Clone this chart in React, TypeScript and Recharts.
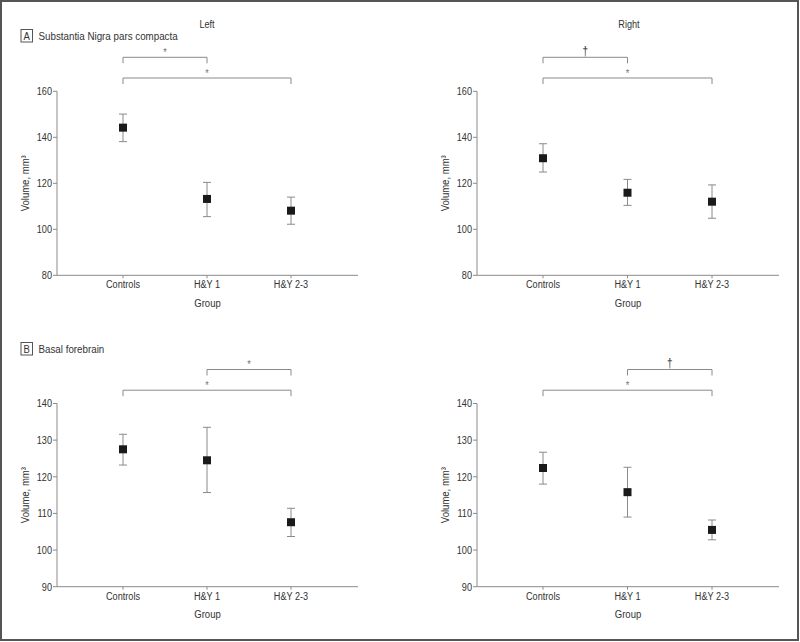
import React from 'react';
import { ComposedChart, Scatter, ErrorBar, XAxis, YAxis, ReferenceLine } from 'recharts';

const groups = ['Controls', 'H&Y 1', 'H&Y 2-3'];

// Substantia nigra pars compacta
const snLeftMean = [144.2, 113.2, 108.1];
const snLeftLow = [138.1, 105.5, 102.2];
const snLeftHigh = [150.1, 120.4, 114.0];
const snRightMean = [130.9, 115.9, 112.0];
const snRightLow = [124.9, 110.4, 104.8];
const snRightHigh = [137.2, 121.7, 119.3];
const snTicks = [80, 100, 120, 140, 160];

// Basal forebrain
const bfLeftMean = [127.5, 124.5, 107.6];
const bfLeftLow = [123.2, 115.7, 103.7];
const bfLeftHigh = [131.6, 133.5, 111.4];
const bfRightMean = [122.4, 115.8, 105.5];
const bfRightLow = [118.0, 109.0, 102.8];
const bfRightHigh = [126.7, 122.6, 108.2];
const bfTicks = [90, 100, 110, 120, 130, 140];

// significance brackets: level 0 = upper, 1 = lower
const snLeftBrackets = [
  { from: 'Controls', to: 'H&Y 1', mark: '*', level: 0 },
  { from: 'Controls', to: 'H&Y 2-3', mark: '*', level: 1 },
];
const snRightBrackets = [
  { from: 'Controls', to: 'H&Y 1', mark: '†', level: 0 },
  { from: 'Controls', to: 'H&Y 2-3', mark: '*', level: 1 },
];
const bfLeftBrackets = [
  { from: 'H&Y 1', to: 'H&Y 2-3', mark: '*', level: 0 },
  { from: 'Controls', to: 'H&Y 2-3', mark: '*', level: 1 },
];
const bfRightBrackets = [
  { from: 'H&Y 1', to: 'H&Y 2-3', mark: '†', level: 0 },
  { from: 'Controls', to: 'H&Y 2-3', mark: '*', level: 1 },
];

const FONT = "'Liberation Sans', Arial, Helvetica, sans-serif";
const AXIS = '#8a8a8a';
const TEXT = '#333';
const SQUEEZE = 0.83; // condensed look of the original typeface

// horizontally condensed text
const CText = (props: any) => {
  const { x, y, size = 11, anchor = 'middle', fill = TEXT, rotate = 0, dy, baseline, children } = props;
  const rot = rotate ? ` rotate(${rotate})` : '';
  return (
    <text transform={`translate(${x},${y})${rot} scale(${SQUEEZE},1)`} textAnchor={anchor}
      dominantBaseline={baseline} dy={dy} fontSize={size} fill={fill}>
      {children}
    </text>
  );
};

const XTick = (props: any) => (
  <CText x={props.x} y={props.y} dy="0.71em">{props.payload.value}</CText>
);

const YTick = (props: any) => (
  <CText x={props.x} y={props.y} anchor="end" dy="0.355em">{props.payload.value}</CText>
);

const Square = (props: any) => {
  const { cx, cy } = props;
  return <rect x={cx - 4} y={cy - 4} width={8} height={8} fill="#1a1a1a" />;
};

const YLabel = (props: any) => {
  const { viewBox } = props;
  return (
    <CText x={viewBox.x + 25} y={viewBox.y + viewBox.height / 2} rotate={-90} baseline="central" size={11.5}>
      Volume, mm³
    </CText>
  );
};

const XLabel = (props: any) => {
  const { viewBox } = props;
  return (
    <CText x={viewBox.x + viewBox.width / 2} y={viewBox.y + 27} baseline="central" size={11.5}>
      Group
    </CText>
  );
};

const MarkLabel = (props: any) => {
  const { viewBox, value } = props;
  const star = value === '*';
  return (
    <CText x={viewBox.x + viewBox.width / 2} y={viewBox.y - (star ? 5 : 7)} baseline="central"
      size={star ? 11 : 12} fill={star ? '#777' : '#333'}>
      {value}
    </CText>
  );
};

type PanelProps = {
  left: number;
  top: number;
  width: number;
  marginRight: number;
  plotTop: number;
  marginBottom: number;
  mean: number[];
  low: number[];
  high: number[];
  domain: [number, number];
  ticks: number[];
  brackets: { from: string; to: string; mark: string; level: number }[];
};

const levelPx = [34, 13.3];
const tickPx = 6;

function Panel(p: PanelProps) {
  const height = 320;
  const plotH = height - p.plotTop - p.marginBottom - 34;
  const upp = (p.domain[1] - p.domain[0]) / plotH;
  const data = groups.map((g, i) => ({
    group: g,
    mean: p.mean[i],
    err: [p.mean[i] - p.low[i], p.high[i] - p.mean[i]],
  }));
  return (
    <div style={{ position: 'absolute', left: p.left, top: p.top }}>
      <ComposedChart width={p.width} height={height} data={data}
        margin={{ top: p.plotTop, right: p.marginRight, bottom: p.marginBottom, left: 0 }}>
        <XAxis dataKey="group" type="category" padding={{ left: 66, right: 67 }} height={34}
          stroke={AXIS} tickSize={3} tickMargin={2} tick={<XTick />} interval={0}
          label={<XLabel />} />
        <YAxis type="number" domain={p.domain} ticks={p.ticks} width={57} interval={0}
          stroke={AXIS} tickSize={4} tickMargin={1} tick={<YTick />}
          label={<YLabel />} />
        {p.brackets.map((b, i) => {
          const yv = p.domain[1] + levelPx[b.level] * upp;
          const yt = yv - tickPx * upp;
          return (
            <React.Fragment key={i}>
              <ReferenceLine ifOverflow="visible" stroke={AXIS}
                segment={[{ x: b.from, y: yv }, { x: b.to, y: yv }]}
                label={<MarkLabel value={b.mark} />} />
              <ReferenceLine ifOverflow="visible" stroke={AXIS}
                segment={[{ x: b.from, y: yv }, { x: b.from, y: yt }]} />
              <ReferenceLine ifOverflow="visible" stroke={AXIS}
                segment={[{ x: b.to, y: yv }, { x: b.to, y: yt }]} />
            </React.Fragment>
          );
        })}
        <Scatter dataKey="mean" shape={Square} isAnimationActive={false}>
          <ErrorBar dataKey="err" direction="y" width={4} stroke="#8a8a8a" strokeWidth={1} />
        </Scatter>
      </ComposedChart>
    </div>
  );
}

export default function App() {
  return (
    <div style={{ position: 'absolute', left: 0, top: 0, width: 800, height: 642, background: '#fff', fontFamily: FONT }}>
      <svg width={800} height={642} style={{ position: 'absolute', left: 0, top: 0 }}>
        <rect x={1} y={1} width={797} height={639} fill="none" stroke="#555" strokeWidth={2} />
        <CText x={207} y={24} baseline="central" size={11}>Left</CText>
        <CText x={629} y={24} baseline="central" size={11}>Right</CText>
        <rect x={21} y={29.5} width={11.5} height={12.5} fill="none" stroke="#555" strokeWidth={1} />
        <CText x={26.75} y={36} baseline="central" size={11.5}>A</CText>
        <CText x={38.5} y={36} anchor="start" baseline="central" size={11.8}>Substantia Nigra pars compacta</CText>
        <rect x={21} y={342.5} width={11.5} height={12.5} fill="none" stroke="#555" strokeWidth={1} />
        <CText x={26.75} y={349} baseline="central" size={11.5}>B</CText>
        <CText x={38.5} y={349} anchor="start" baseline="central" size={11.8}>Basal forebrain</CText>
      </svg>
      <Panel left={0} top={0} width={380} marginRight={22} plotTop={91.3} marginBottom={10.7}
        mean={snLeftMean} low={snLeftLow} high={snLeftHigh} domain={[80, 160]} ticks={snTicks} brackets={snLeftBrackets} />
      <Panel left={420} top={0} width={380} marginRight={21} plotTop={91.3} marginBottom={10.7}
        mean={snRightMean} low={snRightLow} high={snRightHigh} domain={[80, 160]} ticks={snTicks} brackets={snRightBrackets} />
      <Panel left={0} top={320} width={380} marginRight={22} plotTop={83.5} marginBottom={19.3}
        mean={bfLeftMean} low={bfLeftLow} high={bfLeftHigh} domain={[90, 140]} ticks={bfTicks} brackets={bfLeftBrackets} />
      <Panel left={420} top={320} width={380} marginRight={21} plotTop={83.5} marginBottom={19.3}
        mean={bfRightMean} low={bfRightLow} high={bfRightHigh} domain={[90, 140]} ticks={bfTicks} brackets={bfRightBrackets} />
    </div>
  );
}
